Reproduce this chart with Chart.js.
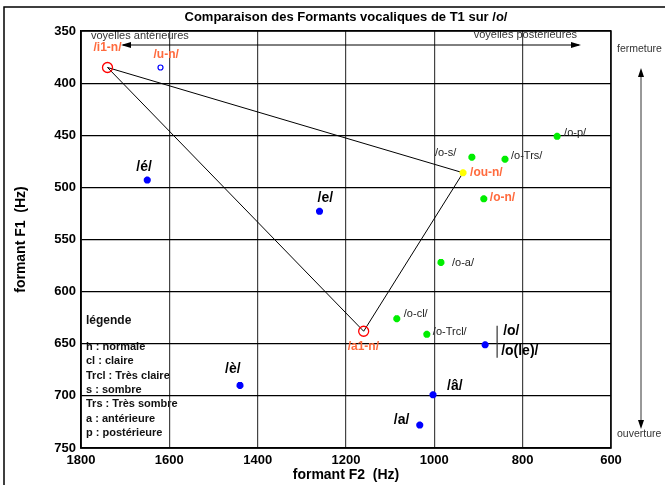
<!DOCTYPE html>
<html>
<head>
<meta charset="utf-8">
<script src="https://cdn.jsdelivr.net/npm/chart.js@4.4.1/dist/chart.umd.min.js"></script>
<style>
  body { margin: 0; background: #fff; }
  #wrap { width: 665px; height: 485px; position: relative; }
</style>
</head>
<body>
<div id="wrap"><canvas id="chart" width="665" height="485"></canvas></div>
<script>
// axes
const xTicks = [1800, 1600, 1400, 1200, 1000, 800, 600];
const yTicks = [350, 400, 450, 500, 550, 600, 650, 700, 750];

// oral vowels (blue)
const blueLabels = ['/é/', '/e/', '/è/', '/o/', '/â/', '/a/'];
const blueF2 = [1650, 1260, 1440, 885, 1003, 1033];
const blueF1 = [493, 523, 690, 651, 699, 728];

// variants of /o/ (green)
const greenLabels = ['/o-s/', '/o-Trs/', '/o-p/', '/o-n/', '/o-a/', '/o-cl/', '/o-Trcl/'];
const greenF2 = [915, 840, 722, 888, 985, 1085, 1017];
const greenF1 = [471, 473, 451, 511, 572, 626, 641];

// reference triangle (red circles + yellow)
const nasalLabels = ['/i1-n/', '/a1-n/'];
const nasalF2 = [1740, 1160];
const nasalF1 = [385, 638];
const ouLabel = ['/ou-n/'];
const ouF2 = [935];
const ouF1 = [486];
const unLabel = ['/u-n/'];
const unF2 = [1620];
const unF1 = [385];

const legendLines = ['h : normale', 'cl : claire', 'Trcl : Très claire', 's : sombre',
  'Trs : Très sombre', 'a : antérieure', 'p : postérieure'];

const FONT = '"Liberation Sans", Arial, sans-serif';
const ORANGE = '#ff6a3d';

// label placement: [dx, dy, font, color] relative to the point pixel
const labelStyle = {
  '/é/': [-11, -13, 'bold 14px', '#000'],
  '/e/': [-2, -13, 'bold 14px', '#000'],
  '/è/': [-15, -16, 'bold 14px', '#000'],
  '/o/': [18, -14, 'bold 14px', '#000'],
  '/â/': [14, -9, 'bold 14px', '#000'],
  '/a/': [-26, -5, 'bold 14px', '#000'],
  '/o-s/': [-37, -4, '11px', '#222'],
  '/o-Trs/': [6, -3, '11px', '#222'],
  '/o-p/': [7, -3, '11px', '#222'],
  '/o-n/': [6, -1, 'bold 12px', ORANGE],
  '/o-a/': [11, 1, '11px', '#222'],
  '/o-cl/': [7, -5, '11px', '#222'],
  '/o-Trcl/': [6, -2, '11px', '#222'],
  '/i1-n/': [-14, -20, 'bold 12px', ORANGE],
  '/a1-n/': [-16, 15, 'bold 12px', ORANGE],
  '/ou-n/': [7, 0, 'bold 12px', ORANGE],
  '/u-n/': [-7, -13, 'bold 12px', ORANGE]
};

function pts(xs, ys) {
  return xs.map((x, i) => ({ x: x, y: ys[i] }));
}

const triangle = [
  { x: nasalF2[0], y: nasalF1[0] },
  { x: ouF2[0], y: ouF1[0] },
  { x: nasalF2[1], y: nasalF1[1] },
  { x: nasalF2[0], y: nasalF1[0] }
];

function arrowHead(ctx, x, y, dir, vertical) {
  ctx.beginPath();
  if (vertical) {
    ctx.moveTo(x, y);
    ctx.lineTo(x - 3, y - dir * 9);
    ctx.lineTo(x + 3, y - dir * 9);
  } else {
    ctx.moveTo(x, y);
    ctx.lineTo(x - dir * 10, y - 3);
    ctx.lineTo(x - dir * 10, y + 3);
  }
  ctx.closePath();
  ctx.fill();
}

const decor = {
  id: 'decor',
  beforeDraw(chart) {
    const ctx = chart.ctx;
    const a = chart.chartArea;
    ctx.save();
    // outer frame
    ctx.strokeStyle = '#000';
    ctx.lineWidth = 1.5;
    ctx.strokeRect(4, 7, 700, 500);
    // texts that sit under the grid
    ctx.fillStyle = '#333';
    ctx.font = '11px ' + FONT;
    ctx.textBaseline = 'middle';
    ctx.textAlign = 'left';
    ctx.fillText('voyelles antérieures', a.left + 10, a.top + 5);
    ctx.textAlign = 'right';
    ctx.fillText('voyelles postérieures', a.right - 34, a.top + 4);
    // legend block
    ctx.textAlign = 'left';
    ctx.fillStyle = '#111';
    ctx.font = 'bold 12px ' + FONT;
    ctx.fillText('légende', a.left + 5, 321);
    ctx.font = 'bold 11px ' + FONT;
    legendLines.forEach((t, i) => {
      ctx.fillText(t, a.left + 5, 347 + i * 14.3);
    });
    ctx.restore();
  },
  afterDraw(chart) {
    const ctx = chart.ctx;
    const a = chart.chartArea;
    const sx = chart.scales.x;
    const sy = chart.scales.y;
    ctx.save();
    // plot box
    ctx.strokeStyle = '#000';
    ctx.lineWidth = 1.5;
    ctx.strokeRect(a.left, a.top, a.right - a.left, a.bottom - a.top);

    // titles
    ctx.fillStyle = '#000';
    ctx.textAlign = 'center';
    ctx.textBaseline = 'middle';
    ctx.font = 'bold 13px ' + FONT;
    ctx.fillText('Comparaison des Formants vocaliques de T1 sur /o/', (a.left + a.right) / 2, 17);
    ctx.font = 'bold 14px ' + FONT;
    ctx.fillText('formant F2  (Hz)', (a.left + a.right) / 2, 475);
    ctx.save();
    ctx.translate(21, (a.top + a.bottom) / 2);
    ctx.rotate(-Math.PI / 2);
    ctx.fillText('formant F1  (Hz)', 0, 0);
    ctx.restore();

    // horizontal arrow (antérieures <-> postérieures)
    const ay = a.top + 14;
    ctx.strokeStyle = '#000';
    ctx.lineWidth = 1;
    ctx.beginPath();
    ctx.moveTo(a.left + 42, ay);
    ctx.lineTo(a.right - 32, ay);
    ctx.stroke();
    arrowHead(ctx, a.left + 40, ay, -1, false);
    arrowHead(ctx, a.right - 30, ay, 1, false);

    // vertical arrow (fermeture <-> ouverture)
    const vx = 641;
    ctx.strokeStyle = '#333';
    ctx.beginPath();
    ctx.moveTo(vx, 72);
    ctx.lineTo(vx, 425);
    ctx.stroke();
    ctx.fillStyle = '#000';
    arrowHead(ctx, vx, 68, -1, true);
    arrowHead(ctx, vx, 429, 1, true);
    ctx.fillStyle = '#333';
    ctx.textAlign = 'left';
    ctx.font = '10.5px ' + FONT;
    ctx.fillText('fermeture', 617, 49);
    ctx.fillText('ouverture', 617, 434);

    // point labels
    const groups = [
      [blueLabels, blueF2, blueF1],
      [greenLabels, greenF2, greenF1],
      [nasalLabels, nasalF2, nasalF1],
      [ouLabel, ouF2, ouF1],
      [unLabel, unF2, unF1]
    ];
    groups.forEach(([labels, xs, ys]) => {
      labels.forEach((lab, i) => {
        const st = labelStyle[lab];
        const px = sx.getPixelForValue(xs[i]);
        const py = sy.getPixelForValue(ys[i]);
        ctx.font = st[2] + ' ' + FONT;
        ctx.fillStyle = st[3];
        ctx.textAlign = 'left';
        ctx.fillText(lab, px + st[0], py + st[1]);
        if (lab === '/o/') {
          ctx.fillText('/o(le)/', px + 16, py + 6);
          ctx.strokeStyle = '#333';
          ctx.lineWidth = 1.2;
          ctx.beginPath();
          ctx.moveTo(px + 12, py - 19);
          ctx.lineTo(px + 12, py + 13);
          ctx.stroke();
        }
      });
    });
    ctx.restore();
  }
};

const tickFont = { family: FONT, size: 13, weight: 'bold' };

new Chart(document.getElementById('chart'), {
  type: 'scatter',
  data: {
    datasets: [
      {
        data: triangle,
        order: 10,
        showLine: true,
        borderColor: '#000',
        borderWidth: 1,
        pointRadius: 0,
        fill: false
      },
      {
        data: pts(blueF2, blueF1),
        pointStyle: 'star',
        pointRadius: 3.5,
        borderWidth: 2.5,
        borderColor: '#0000ff',
        backgroundColor: '#0000ff'
      },
      {
        data: pts(greenF2, greenF1),
        pointStyle: 'star',
        pointRadius: 3.5,
        borderWidth: 2.5,
        borderColor: '#00ee00',
        backgroundColor: '#00ee00'
      },
      {
        data: pts(ouF2, ouF1),
        pointStyle: 'star',
        pointRadius: 3.5,
        borderWidth: 2.5,
        borderColor: '#ffff00',
        backgroundColor: '#ffff00'
      },
      {
        data: pts(nasalF2, nasalF1),
        pointStyle: 'circle',
        pointRadius: 5,
        borderWidth: 1.3,
        borderColor: '#ff0000',
        backgroundColor: 'rgba(0,0,0,0)'
      },
      {
        data: pts(unF2, unF1),
        pointStyle: 'circle',
        pointRadius: 2.5,
        borderWidth: 1.2,
        borderColor: '#0000ff',
        backgroundColor: 'rgba(0,0,0,0)'
      }
    ]
  },
  options: {
    responsive: false,
    animation: false,
    devicePixelRatio: 1,
    layout: { padding: { top: 31, right: 54, left: 0, bottom: 0 } },
    plugins: {
      legend: { display: false },
      tooltip: { enabled: false }
    },
    scales: {
      x: {
        type: 'linear',
        reverse: true,
        min: 600,
        max: 1800,
        afterBuildTicks: s => { s.ticks = xTicks.map(v => ({ value: v })); },
        afterFit: s => { s.height = 37; },
        ticks: { font: tickFont, color: '#000', padding: 5, maxRotation: 0, callback: v => String(v) },
        grid: { color: '#444', lineWidth: 1.2, drawTicks: false },
        border: { color: '#000', width: 1.5 }
      },
      y: {
        type: 'linear',
        reverse: true,
        min: 350,
        max: 750,
        afterBuildTicks: s => { s.ticks = yTicks.map(v => ({ value: v })); },
        afterFit: s => { s.width = 81; },
        ticks: { font: tickFont, color: '#000', padding: 5, callback: v => String(v) },
        grid: { color: '#000', lineWidth: 1.2, drawTicks: false },
        border: { color: '#000', width: 1.5 }
      }
    }
  },
  plugins: [decor]
});
</script>
</body>
</html>
